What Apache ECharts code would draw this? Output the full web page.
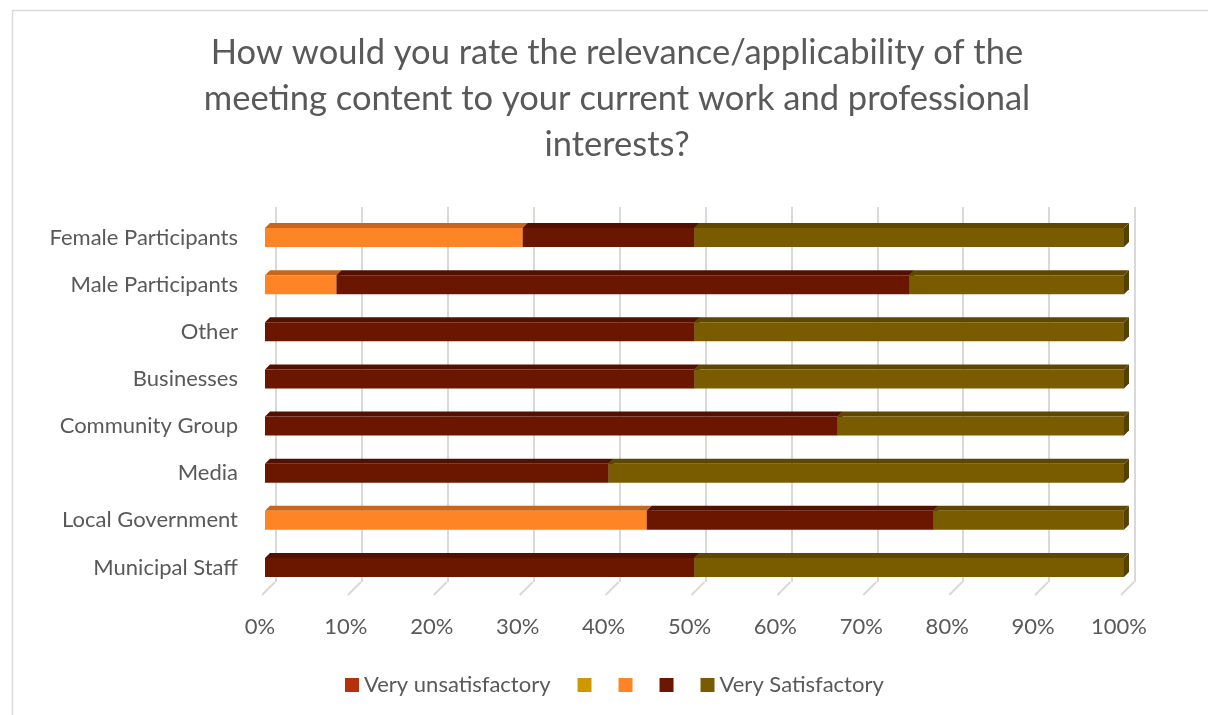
<!DOCTYPE html>
<html>
<head>
<meta charset="utf-8">
<script src="https://cdn.jsdelivr.net/npm/echarts@6/dist/echarts.min.js"></script>
<style>html,body{margin:0;padding:0;background:#fff;}#c{width:1208px;height:715px;}</style>
</head>
<body>
<div id="c"></div>
<script>
const categories = ['Female Participants','Male Participants','Other','Businesses','Community Group','Media','Local Government','Municipal Staff'];
const seriesNames = ['Very unsatisfactory',' ','  ','   ','Very Satisfactory'];
const veryUnsatisfactory = [0,0,0,0,0,0,0,0];
const series2 = [0,0,0,0,0,0,0,0];
const series3 = [30,8.33,0,0,0,0,44.44,0];
const series4 = [20,66.67,50,50,66.67,40,33.33,50];
const verySatisfactory = [50,25,50,50,33.33,60,22.22,50];
const xTicks = [0,10,20,30,40,50,60,70,80,90,100];

const values = [veryUnsatisfactory, series2, series3, series4, verySatisfactory];
const colors = ['#B5300B','#D09800','#FF8426','#6B1700','#7A5C00'];
const topColors = ['#8E2608','#A37700','#C8661D','#521100','#5E4700'];
const endColors = ['#7E2207','#8F6900','#B35B1A','#4A0F00','#554000'];

const chart = echarts.init(document.getElementById('c'));
const D = 5, BAR_H = 19;

function makeSeries(si){
  const data = categories.map((c, i) => {
    let start = 0;
    for (let k = 0; k < si; k++) start += values[k][i];
    return [start, start + values[si][i], i];
  });
  return {
    type: 'custom',
    name: seriesNames[si],
    xAxisIndex: 0, yAxisIndex: 0,
    itemStyle: {color: colors[si]},
    encode: {x: [0, 1], y: 2},
    z: 3,
    data: data,
    renderItem: function(params, api){
      const s = api.value(0), e = api.value(1), cat = api.value(2);
      if (e - s <= 0.0001) return;
      const p0 = api.coord([s, cat]);
      const p1 = api.coord([e, cat]);
      const x0 = p0[0], x1 = p1[0];
      const y0 = p0[1] - BAR_H/2, y1 = p0[1] + BAR_H/2;
      return {
        type: 'group',
        children: [
          {type:'polygon', shape:{points:[[x1,y0],[x1+D,y0-D],[x1+D,y1-D],[x1,y1]]}, style:{fill:endColors[si]}},
          {type:'polygon', shape:{points:[[x0,y0],[x1,y0],[x1+D,y0-D],[x0+D,y0-D]]}, style:{fill:topColors[si]}},
          {type:'rect', shape:{x:x0, y:y0, width:x1-x0, height:y1-y0}, style:{fill:colors[si]}}
        ]
      };
    }
  };
}

const seriesList = [0,1,2,3,4].map(makeSeries);
seriesList.push({
  type: 'custom',
  name: 'ticks',
  xAxisIndex: 0, yAxisIndex: 0,
  silent: true,
  z: 1,
  encode: {x: 0, y: 1},
  data: xTicks.map(v => [v, 0]),
  renderItem: function(params, api){
    const p = api.coord([api.value(0), 0]);
    const bottom = params.coordSys.y + params.coordSys.height;
    return {type:'line', shape:{x1:p[0]+10, y1:bottom-9, x2:p[0]-3, y2:bottom+4}, style:{stroke:'#D9D9D9', lineWidth:2}};
  }
});

const txt = '#595959';
const font = 'Lato, "Open Sans", sans-serif';

chart.setOption({
  backgroundColor: '#ffffff',
  animation: false,
  textStyle: {fontFamily: font},
  graphic: [{type:'rect', left:10, top:8, shape:{width:1400, height:900}, style:{fill:'none', stroke:'#D9D9D9', lineWidth:1.5}, z:-10}],
  title: {
    text: 'How would you rate the relevance/applicability of the\nmeeting content to your current work and professional\ninterests?',
    left: 612, top: 25, textAlign: 'center',
    textStyle: {fontFamily: font, fontSize: 34.5, fontWeight: 'normal', color: txt, lineHeight: 46}
  },
  legend: {
    data: seriesNames,
    left: 345, top: 674, padding: 0,
    itemWidth: 14, itemHeight: 14, itemGap: 27,
    icon: 'rect',
    formatter: function(n){ return n.trim() === '' ? '' : n; },
    textStyle: {fontFamily: font, fontSize: 22, color: txt}
  },
  grid: [
    {left: 265, right: 84, top: 214, bottom: 124},
    {left: 276, right: 73, top: 207, bottom: 133}
  ],
  xAxis: [
    {type:'value', gridIndex:0, min:0, max:100, interval:10,
      axisLine:{show:false}, axisTick:{show:false}, splitLine:{show:false},
      axisLabel:{formatter:'{value}%', color:txt, fontSize:22, fontFamily:font, margin:25, padding:[0,10,0,0]}},
    {type:'value', gridIndex:1, min:0, max:100, interval:10,
      axisLine:{show:false}, axisTick:{show:false}, axisLabel:{show:false},
      splitLine:{show:true, lineStyle:{color:'#D9D9D9', width:2}}}
  ],
  yAxis: [
    {type:'category', gridIndex:0, data:categories, inverse:true,
      axisLine:{show:false}, axisTick:{show:false},
      axisLabel:{color:txt, fontSize:22, fontFamily:font, margin:27}},
    {type:'category', gridIndex:1, data:categories, inverse:true, show:false}
  ],
  series: seriesList
});
</script>
</body>
</html>
